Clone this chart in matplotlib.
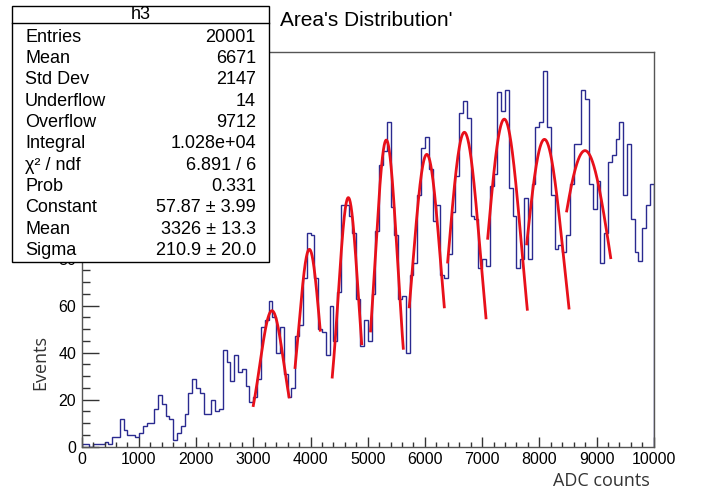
import numpy as np
import matplotlib
matplotlib.use("Agg")
import matplotlib.pyplot as plt
from matplotlib.patches import Rectangle
from matplotlib.lines import Line2D
from matplotlib.ticker import MultipleLocator, FuncFormatter

plt.rcParams['font.family'] = ['Liberation Sans', 'DejaVu Sans']

# histogram h3: 150 bins between 0 and 10000 ADC counts
n_bins = 150
x_min, x_max = 0, 10000
counts = [
    1, 1, 0, 1, 1, 1, 2, 1, 4, 4,
    12, 7, 5, 5, 4, 6, 9, 10, 10, 16,
    22, 18, 13, 12, 3, 6, 9, 14, 23, 29,
    25, 23, 14, 14, 20, 15, 16, 41, 36, 28,
    39, 32, 33, 26, 19, 21, 29, 51, 54, 62,
    55, 40, 51, 31, 21, 25, 47, 52, 72, 91,
    90, 72, 50, 49, 39, 60, 45, 66, 103, 103,
    98, 91, 63, 43, 54, 45, 65, 92, 120, 126,
    138, 102, 90, 63, 64, 40, 73, 78, 107, 127,
    132, 118, 96, 103, 73, 72, 82, 100, 115, 142,
    147, 140, 98, 97, 76, 80, 77, 111, 116, 151,
    143, 152, 110, 98, 76, 80, 106, 80, 112, 136,
    138, 160, 136, 107, 84, 86, 83, 90, 112, 129,
    129, 152, 148, 112, 101, 113, 78, 91, 121, 124,
    131, 138, 107, 129, 97, 83, 79, 93, 103, 112,
]

# gaussian fits, one per peak
fit_const = [57.87, 84.0, 106.0, 130.5, 124.4, 133.8, 139.4, 130.8, 126.0]
fit_mean = [3326, 3980, 4661, 5325, 6033, 6690, 7388, 8090, 8799]
fit_sigma = [210.9, 185, 176, 197, 252, 283, 305, 340, 474]
fit_lo = [3000, 3730, 4380, 5050, 5727, 6398, 7098, 7780, 8479]
fit_hi = [3625, 4170, 4895, 5622, 6339, 7068, 7790, 8519, 9248]

stats_title = "h3"
stats_names = ["Entries", "Mean", "Std Dev", "Underflow", "Overflow", "Integral",
               "\u03c7\u00b2 / ndf", "Prob", "Constant", "Mean", "Sigma"]
stats_values = ["20001", "6671", "2147", "14", "9712", "1.028e+04",
                "6.891 / 6", "0.331", "57.87 \u00b1 3.99", "3326 \u00b1 13.3",
                "210.9 \u00b1 20.0"]

W, H = 715, 500
fig = plt.figure(figsize=(W / 100, H / 100), dpi=100)


def fx(x):
    return x / W


def fy(y):
    return 1 - y / H


# frame in pixels: left 81.7, right 653.7, top 51.7, bottom 446.7
ax = fig.add_axes([fx(81.7), fy(446.7), fx(653.7 - 81.7), (446.7 - 51.7) / H])
edges = np.linspace(x_min, x_max, n_bins + 1)
ax.stairs(counts, edges, color='#2a2a90', lw=1.0, baseline=0)

for c, m, s, lo, hi in zip(fit_const, fit_mean, fit_sigma, fit_lo, fit_hi):
    xs = np.linspace(lo, hi, 200)
    ax.plot(xs, c * np.exp(-0.5 * ((xs - m) / s) ** 2), color='#e8101a', lw=2.0)

ax.set_xlim(x_min, x_max)
ax.set_ylim(0, 168.1)
ax.xaxis.set_major_locator(MultipleLocator(1000))
ax.xaxis.set_minor_locator(MultipleLocator(200))
ax.yaxis.set_major_locator(MultipleLocator(20))
ax.yaxis.set_minor_locator(MultipleLocator(5))
# labels above 80 sit under the stats box anyway
ax.yaxis.set_major_formatter(FuncFormatter(lambda v, p: "%d" % v if v <= 80 else ""))
for sp in ax.spines.values():
    sp.set_color('#555555')
    sp.set_linewidth(1.0)
ax.tick_params(axis='x', which='major', direction='in', length=7.5, width=1,
               color='#333333', labelsize=11.5, pad=4)
ax.tick_params(axis='x', which='minor', direction='in', length=3.8, width=1,
               color='#333333')
ax.tick_params(axis='y', which='major', direction='in', length=12, width=1,
               color='#333333', labelsize=11.5, pad=4)
ax.tick_params(axis='y', which='minor', direction='in', length=6, width=1,
               color='#333333')

fig.text(fx(650), fy(481), "ADC counts", ha='right', va='center',
         fontsize=13, family=['Open Sans', 'DejaVu Sans'], color='#333333')
fig.text(fx(40), fy(362), "Events", ha='center', va='center', rotation=90,
         fontsize=13, family=['Open Sans', 'DejaVu Sans'], color='#333333')
fig.text(fx(280), fy(20), "Area's Distribution'", ha='left', va='center',
         fontsize=15)

# statistics box
bx0, by0, bx1, by1 = 11.7, 5.7, 269.3, 261.7
fig.add_artist(Rectangle((fx(bx0), fy(by1)), fx(bx1 - bx0), (by1 - by0) / H,
                         transform=fig.transFigure, facecolor='white',
                         edgecolor='black', lw=1.0, zorder=5))
fig.add_artist(Line2D([fx(bx0), fx(bx1)], [fy(23.3), fy(23.3)],
                      transform=fig.transFigure, color='black', lw=1.0, zorder=6))
fig.text(fx((bx0 + bx1) / 2), fy(14.5), stats_title, ha='center', va='center',
         fontsize=13, zorder=7)
for k, (name, val) in enumerate(zip(stats_names, stats_values)):
    yy = 37.3 + 21.33 * k
    fig.text(fx(25), fy(yy), name, ha='left', va='center', fontsize=13, zorder=7)
    fig.text(fx(256), fy(yy), val, ha='right', va='center', fontsize=13, zorder=7)

fig.savefig("out.png", dpi=100)
